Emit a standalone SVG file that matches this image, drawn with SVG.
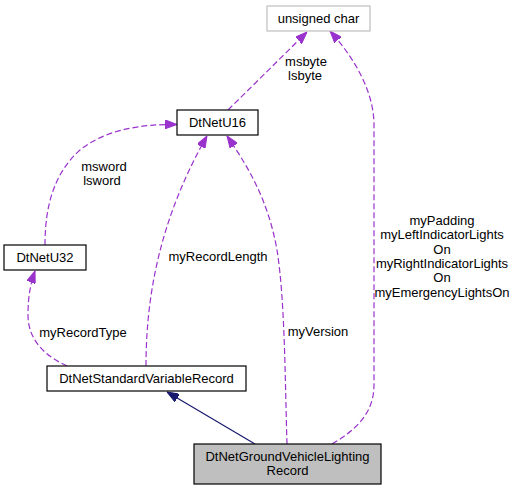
<svg xmlns="http://www.w3.org/2000/svg" width="517" height="491" viewBox="0 0 517 491">
<style>
text{font-family:"Liberation Sans",Arial,sans-serif;font-size:13px;fill:#000;text-anchor:middle}
.box{fill:#fff;stroke:#000;stroke-width:1.2}
.dep{fill:none;stroke:#9a32cd;stroke-width:1.2;stroke-dasharray:6,3}
.inh{fill:none;stroke:#191970;stroke-width:1.2}
</style>
<defs>
<marker id="ap" viewBox="0 0 12 9" refX="12" refY="4.5" markerWidth="12" markerHeight="9" markerUnits="userSpaceOnUse" orient="auto">
<path d="M0,0 L12,4.5 L0,9 z" fill="#9a32cd" stroke="#9a32cd"/>
</marker>
<marker id="an" viewBox="0 0 12 9" refX="12" refY="4.5" markerWidth="12" markerHeight="9" markerUnits="userSpaceOnUse" orient="auto">
<path d="M0,0 L12,4.5 L0,9 z" fill="#191970" stroke="#191970"/>
</marker>
</defs>
<g id="edges">
<path class="dep" d="M228,110 L307,32" marker-end="url(#ap)"/>
<path class="dep" d="M45,245 C45,210 52,175 80,150 C105,130 140,124 177,124.5" marker-end="url(#ap)"/>
<path class="dep" d="M146,366 C146,300 158,222 207,136" marker-end="url(#ap)"/>
<path class="dep" d="M287,444 C285,380 285,300 277,250 C269,205 252,172 227,136" marker-end="url(#ap)"/>
<path class="dep" d="M67,366 C45,356 28,340 28,315 C28,298 30,285 35,271" marker-end="url(#ap)"/>
<path class="dep" d="M332,444 C356,430 374,413 374,385 L374,125 C374,95 358,62 330,31" marker-end="url(#ap)"/>
<path class="inh" d="M255,444 L167,392" marker-end="url(#an)"/>
<text x="306" y="66">msbyte</text>
<text x="305" y="80">lsbyte</text>
<text x="104" y="171">msword</text>
<text x="102" y="184.5">lsword</text>
<text x="218" y="261">myRecordLength</text>
<text x="83" y="337">myRecordType</text>
<text x="318" y="336">myVersion</text>
<text x="442" y="225">myPadding</text>
<text x="442" y="239.3">myLeftIndicatorLights</text>
<text x="442" y="253.6">On</text>
<text x="442" y="267.9">myRightIndicatorLights</text>
<text x="442" y="282.2">On</text>
<text x="442" y="296.5">myEmergencyLightsOn</text>
</g>
<g id="unsigned_char">
<rect x="267" y="6" width="103" height="25" fill="#fff" stroke="#bfbfbf" stroke-width="1.2"/>
<text x="318.5" y="22.5">unsigned char</text>
</g>
<g id="DtNetU16">
<rect class="box" x="177" y="110" width="81" height="25"/>
<text x="217.5" y="126.5">DtNetU16</text>
</g>
<g id="DtNetU32">
<rect class="box" x="4" y="245" width="82" height="25"/>
<text x="45" y="262">DtNetU32</text>
</g>
<g id="DtNetStandardVariableRecord">
<rect class="box" x="47" y="366" width="199" height="25"/>
<text x="146.5" y="382.5">DtNetStandardVariableRecord</text>
</g>
<g id="DtNetGroundVehicleLightingRecord">
<rect x="194" y="444" width="187" height="40" fill="#bfbfbf" stroke="#000" stroke-width="1.2"/>
<text x="287.5" y="460.5">DtNetGroundVehicleLighting</text>
<text x="287.5" y="474.5">Record</text>
</g>
</svg>
